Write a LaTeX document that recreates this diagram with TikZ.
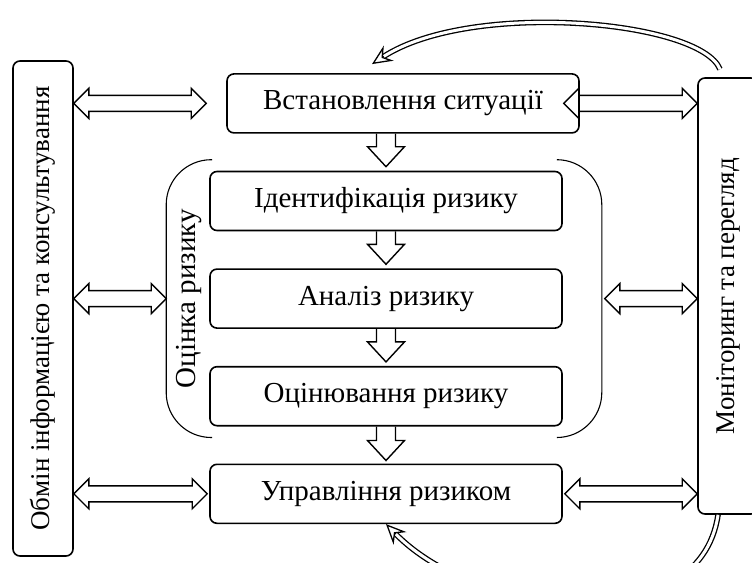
\documentclass[tikz,border=0pt]{standalone}
\usepackage{fontspec}
\setmainfont{Liberation Serif}
\usetikzlibrary{arrows.meta,positioning,calc}

% hollow two-headed arrow, horizontal, at the height of #1
\newcommand{\bothway}[2]{%
  \draw[hollow] let \p1=(#1), \p2=(#2) in
    (\x1,\y1) -- (\x1+15pt,\y1+15pt) -- (\x1+15pt,\y1+8pt)
    -- (\x2-15pt,\y1+8pt) -- (\x2-15pt,\y1+15pt) -- (\x2,\y1)
    -- (\x2-15pt,\y1-15pt) -- (\x2-15pt,\y1-8pt)
    -- (\x1+15pt,\y1-8pt) -- (\x1+15pt,\y1-15pt) -- cycle;}
% hollow arrow pointing down, at the x of #2
\newcommand{\flowdown}[2]{%
  \draw[hollow] let \p1=(#1), \p2=(#2) in
    (\x2-9.5pt,\y1) -- (\x2-9.5pt,\y2+20pt) -- (\x2-18.5pt,\y2+20pt)
    -- (\x2,\y2) -- (\x2+18.5pt,\y2+20pt) -- (\x2+9.5pt,\y2+20pt)
    -- (\x2+9.5pt,\y1);}

\begin{document}
\begin{tikzpicture}[x=1pt, y=-1pt,
    stage/.style={draw, line width=1.6pt, rounded corners=7pt,
                  minimum width=352pt, minimum height=59pt,
                  font=\fontsize{29}{35}\selectfont},
    side/.style={draw, line width=1.6pt, rounded corners=7pt, rotate=90,
                 minimum height=60pt, font=\fontsize{27}{32}\selectfont},
    hollow/.style={line width=1.4pt, line join=miter},
    brk/.style={line width=1.1pt, rounded corners=45pt},
    fbk/.style={double, double distance=3pt, line width=1.3pt, shorten >=13pt},
    fbktip/.style={line width=1.3pt,
                   -{Stealth[length=20pt, width=18pt, inset=7pt, fill=white]}}
  ]
    \path[use as bounding box, clip] (0,0) rectangle (752,562);

    \node[stage] (ident) at (386,201) {Ідентифікація ризику};
    \node[stage, above=37pt of ident, xshift=17pt] (sit) {Встановлення ситуації};
    \node[stage, below=37pt of ident] (anal) {Аналіз ризику};
    \node[stage, below=37pt of anal]  (eval) {Оцінювання ризику};
    \node[stage, below=37pt of eval]  (treat) {Управління ризиком};

    \node[side, minimum width=495pt] (info) at (43,308.5)
      {Обмін інформацією та консультування};
    \node[side, minimum width=436pt] (mon) at (728,296)
      {Моніторинг та перегляд};

    % bracket round the assessment steps
    \coordinate (bl) at ([xshift=-43pt]anal.west);
    \coordinate (br) at ([xshift=39pt]anal.east);
    \draw[brk] ([xshift=3pt,yshift=11pt]ident.north west) -| (bl)
      |- ([xshift=3pt,yshift=-11pt]eval.south west);
    \draw[brk] ([xshift=-6pt,yshift=11pt]ident.north east) -| (br)
      |- ([xshift=-6pt,yshift=-11pt]eval.south east);
    \node[rotate=90, font=\fontsize{29}{35}\selectfont] (asmt)
      at ([xshift=23pt]bl) {Оцінка ризику};

    \flowdown{sit.south -| ident.north}{[yshift=4pt]ident.north}
    \flowdown{ident.south}{[yshift=4pt]anal.north}
    \flowdown{anal.south}{[yshift=4pt]eval.north}
    \flowdown{eval.south}{[yshift=3pt]treat.north}

    \bothway{info.south |- sit.west}{[xshift=-20pt]sit.west}
    \bothway{info.south |- anal.west}{bl}
    \bothway{info.south |- treat.west}{[xshift=-2pt]treat.west}
    \bothway{[xshift=-16pt]sit.east}{mon.north |- sit.east}
    \bothway{[xshift=3pt]br}{mon.north |- anal.east}
    \bothway{[xshift=2pt]treat.east}{mon.north |- treat.east}

    % feedback from monitoring
    \coordinate (topend) at ([xshift=-31pt,yshift=9pt]sit.north);
    \draw[fbk] ([xshift=-8pt,yshift=8pt]mon.east) .. controls (700,20) and (470,0)
      .. (topend);
    \draw[fbktip] ($(topend)!14pt!(470,0)$) -- (topend);
    \draw[fbk] ([xshift=-10pt]mon.west) .. controls (700,640) and (480,620)
      .. (treat.south);
    \draw[fbktip] ($(treat.south)!14pt!(480,620)$) -- (treat.south);
\end{tikzpicture}
\end{document}
